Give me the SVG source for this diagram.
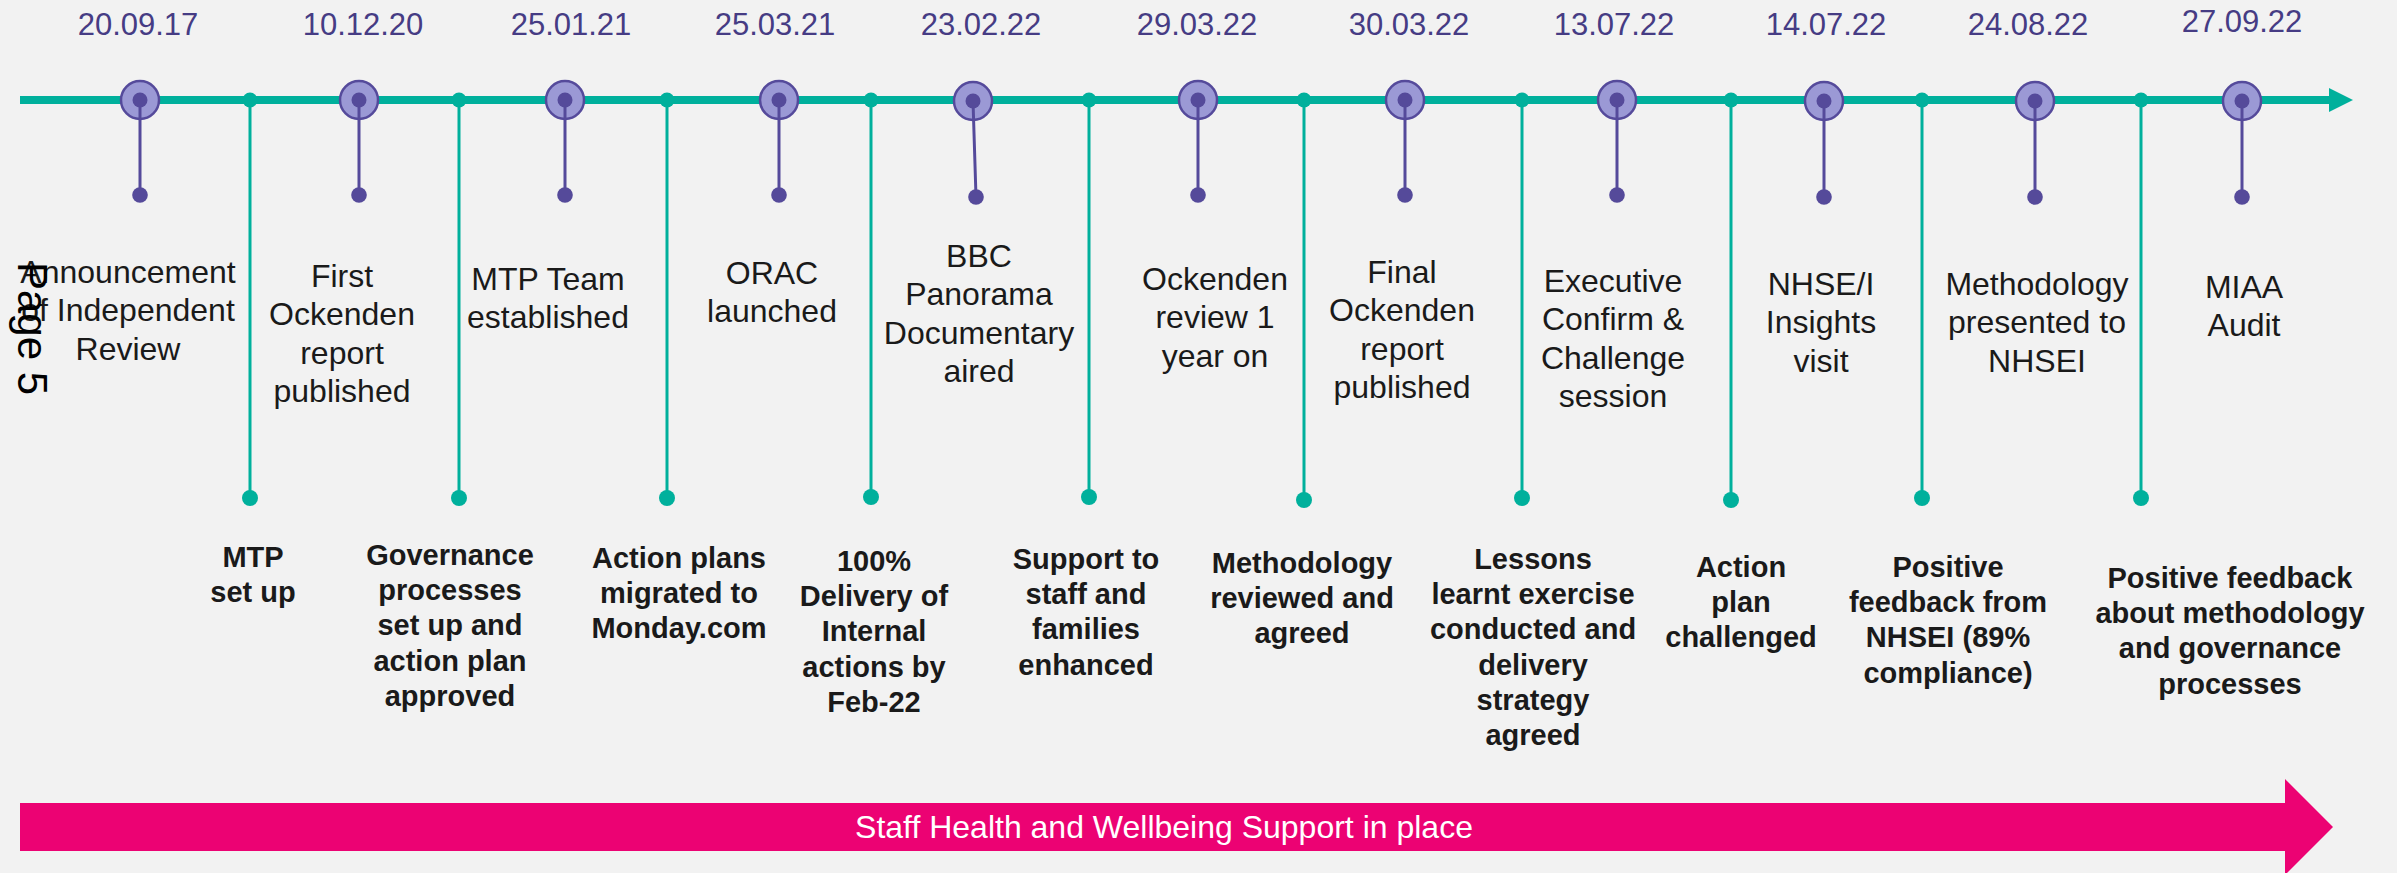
<svg xmlns="http://www.w3.org/2000/svg" width="2397" height="873" viewBox="0 0 2397 873">
<style>
.bg{fill:#F2F2F2}
.date{font-family:"Liberation Sans",Arial,sans-serif;font-size:31px;fill:#463C84;text-anchor:middle}
.lbl{font-family:"Liberation Sans",Arial,sans-serif;font-size:32px;fill:#1A1A1A;text-anchor:middle}
.blbl{font-family:"Liberation Sans",Arial,sans-serif;font-size:29px;font-weight:bold;fill:#1A1A1A;text-anchor:middle}
.ring{fill:#9B99D5;stroke:#554A9B;stroke-width:2.5}
.pdot{fill:#554A9A}
.tdot{fill:#00B09C}
.pstem{stroke:#554A9B;stroke-width:3;fill:none}
.tstem{stroke:#00B09C;stroke-width:3;fill:none}
.band{font-family:"Liberation Sans",Arial,sans-serif;font-size:32px;fill:#FFFFFF;text-anchor:middle}
</style>
<rect class="bg" x="0" y="0" width="2397" height="873"/>

<g id="connectors">
  <line x1="20" y1="100" x2="2331" y2="100" stroke="#00B09C" stroke-width="8"/>
  <polygon points="2329,88 2353,100 2329,112" fill="#00B09C"/>
  <line class="tstem" x1="250" y1="100" x2="250" y2="498"/>
  <line class="tstem" x1="459" y1="100" x2="459" y2="498"/>
  <line class="tstem" x1="667" y1="100" x2="667" y2="498"/>
  <line class="tstem" x1="871" y1="100" x2="871" y2="498"/>
  <line class="tstem" x1="1089" y1="100" x2="1089" y2="498"/>
  <line class="tstem" x1="1304" y1="100" x2="1304" y2="498"/>
  <line class="tstem" x1="1522" y1="100" x2="1522" y2="498"/>
  <line class="tstem" x1="1731" y1="100" x2="1731" y2="498"/>
  <line class="tstem" x1="1922" y1="100" x2="1922" y2="498"/>
  <line class="tstem" x1="2141" y1="100" x2="2141" y2="498"/>
</g>

<!-- Purple milestone nodes -->
<g id="m1">
  <text class="date" x="138" y="35">20.09.17</text>
  <circle class="ring" cx="140" cy="100" r="19"/>
  <line class="pstem" x1="140" y1="100" x2="140" y2="195"/>
  <circle class="pdot" cx="140" cy="100" r="7.5"/>
  <circle class="pdot" cx="140" cy="195" r="7.8"/>
  <text class="lbl" x="128" y="283"><tspan x="128">Announcement</tspan><tspan x="128" dy="38.4">of Independent</tspan><tspan x="128" dy="38.4">Review</tspan></text>
</g>
<g id="m2">
  <text class="date" x="363" y="35">10.12.20</text>
  <circle class="ring" cx="359" cy="100" r="19"/>
  <line class="pstem" x1="359" y1="100" x2="359" y2="195"/>
  <circle class="pdot" cx="359" cy="100" r="7.5"/>
  <circle class="pdot" cx="359" cy="195" r="7.8"/>
  <text class="lbl" x="342" y="287"><tspan x="342">First</tspan><tspan x="342" dy="38.4">Ockenden</tspan><tspan x="342" dy="38.4">report</tspan><tspan x="342" dy="38.4">published</tspan></text>
</g>
<g id="m3">
  <text class="date" x="571" y="35">25.01.21</text>
  <circle class="ring" cx="565" cy="100" r="19"/>
  <line class="pstem" x1="565" y1="100" x2="565" y2="195"/>
  <circle class="pdot" cx="565" cy="100" r="7.5"/>
  <circle class="pdot" cx="565" cy="195" r="7.8"/>
  <text class="lbl" x="548" y="290"><tspan x="548">MTP Team</tspan><tspan x="548" dy="38.4">established</tspan></text>
</g>
<g id="m4">
  <text class="date" x="775" y="35">25.03.21</text>
  <circle class="ring" cx="779" cy="100" r="19"/>
  <line class="pstem" x1="779" y1="100" x2="779" y2="195"/>
  <circle class="pdot" cx="779" cy="100" r="7.5"/>
  <circle class="pdot" cx="779" cy="195" r="7.8"/>
  <text class="lbl" x="772" y="284"><tspan x="772">ORAC</tspan><tspan x="772" dy="38.4">launched</tspan></text>
</g>
<g id="m5">
  <text class="date" x="981" y="35">23.02.22</text>
  <circle class="ring" cx="973" cy="101" r="19"/>
  <line class="pstem" x1="973" y1="101" x2="976" y2="197"/>
  <circle class="pdot" cx="973" cy="101" r="7.5"/>
  <circle class="pdot" cx="976" cy="197" r="7.8"/>
  <text class="lbl" x="979" y="267"><tspan x="979">BBC</tspan><tspan x="979" dy="38.4">Panorama</tspan><tspan x="979" dy="38.4">Documentary</tspan><tspan x="979" dy="38.4">aired</tspan></text>
</g>
<g id="m6">
  <text class="date" x="1197" y="35">29.03.22</text>
  <circle class="ring" cx="1198" cy="100" r="19"/>
  <line class="pstem" x1="1198" y1="100" x2="1198" y2="195"/>
  <circle class="pdot" cx="1198" cy="100" r="7.5"/>
  <circle class="pdot" cx="1198" cy="195" r="7.8"/>
  <text class="lbl" x="1215" y="290"><tspan x="1215">Ockenden</tspan><tspan x="1215" dy="38.4">review 1</tspan><tspan x="1215" dy="38.4">year on</tspan></text>
</g>
<g id="m7">
  <text class="date" x="1409" y="35">30.03.22</text>
  <circle class="ring" cx="1405" cy="100" r="19"/>
  <line class="pstem" x1="1405" y1="100" x2="1405" y2="195"/>
  <circle class="pdot" cx="1405" cy="100" r="7.5"/>
  <circle class="pdot" cx="1405" cy="195" r="7.8"/>
  <text class="lbl" x="1402" y="283"><tspan x="1402">Final</tspan><tspan x="1402" dy="38.4">Ockenden</tspan><tspan x="1402" dy="38.4">report</tspan><tspan x="1402" dy="38.4">published</tspan></text>
</g>
<g id="m8">
  <text class="date" x="1614" y="35">13.07.22</text>
  <circle class="ring" cx="1617" cy="100" r="19"/>
  <line class="pstem" x1="1617" y1="100" x2="1617" y2="195"/>
  <circle class="pdot" cx="1617" cy="100" r="7.5"/>
  <circle class="pdot" cx="1617" cy="195" r="7.8"/>
  <text class="lbl" x="1613" y="292"><tspan x="1613">Executive</tspan><tspan x="1613" dy="38.4">Confirm &amp;</tspan><tspan x="1613" dy="38.4">Challenge</tspan><tspan x="1613" dy="38.4">session</tspan></text>
</g>
<g id="m9">
  <text class="date" x="1826" y="35">14.07.22</text>
  <circle class="ring" cx="1824" cy="101" r="19"/>
  <line class="pstem" x1="1824" y1="101" x2="1824" y2="197"/>
  <circle class="pdot" cx="1824" cy="101" r="7.5"/>
  <circle class="pdot" cx="1824" cy="197" r="7.8"/>
  <text class="lbl" x="1821" y="295"><tspan x="1821">NHSE/I</tspan><tspan x="1821" dy="38.4">Insights</tspan><tspan x="1821" dy="38.4">visit</tspan></text>
</g>
<g id="m10">
  <text class="date" x="2028" y="35">24.08.22</text>
  <circle class="ring" cx="2035" cy="101" r="19"/>
  <line class="pstem" x1="2035" y1="101" x2="2035" y2="197"/>
  <circle class="pdot" cx="2035" cy="101" r="7.5"/>
  <circle class="pdot" cx="2035" cy="197" r="7.8"/>
  <text class="lbl" x="2037" y="295"><tspan x="2037">Methodology</tspan><tspan x="2037" dy="38.4">presented to</tspan><tspan x="2037" dy="38.4">NHSEI</tspan></text>
</g>
<g id="m11">
  <text class="date" x="2242" y="32">27.09.22</text>
  <circle class="ring" cx="2242" cy="101" r="19"/>
  <line class="pstem" x1="2242" y1="101" x2="2242" y2="197"/>
  <circle class="pdot" cx="2242" cy="101" r="7.5"/>
  <circle class="pdot" cx="2242" cy="197" r="7.8"/>
  <text class="lbl" x="2244" y="298"><tspan x="2244">MIAA</tspan><tspan x="2244" dy="38.4">Audit</tspan></text>
</g>

<!-- Teal milestone nodes -->
<g id="t1">
  <circle class="tdot" cx="250" cy="100" r="7.5"/>
  <circle class="tdot" cx="250" cy="498" r="8"/>
  <text class="blbl" x="253" y="567"><tspan x="253">MTP</tspan><tspan x="253" dy="35.2">set up</tspan></text>
</g>
<g id="t2">
  <circle class="tdot" cx="459" cy="100" r="7.5"/>
  <circle class="tdot" cx="459" cy="498" r="8"/>
  <text class="blbl" x="450" y="565"><tspan x="450">Governance</tspan><tspan x="450" dy="35.2">processes</tspan><tspan x="450" dy="35.2">set up and</tspan><tspan x="450" dy="35.2">action plan</tspan><tspan x="450" dy="35.2">approved</tspan></text>
</g>
<g id="t3">
  <circle class="tdot" cx="667" cy="100" r="7.5"/>
  <circle class="tdot" cx="667" cy="498" r="8"/>
  <text class="blbl" x="679" y="568"><tspan x="679">Action plans</tspan><tspan x="679" dy="35.2">migrated to</tspan><tspan x="679" dy="35.2">Monday.com</tspan></text>
</g>
<g id="t4">
  <circle class="tdot" cx="871" cy="100" r="7.5"/>
  <circle class="tdot" cx="871" cy="497" r="8"/>
  <text class="blbl" x="874" y="571"><tspan x="874">100%</tspan><tspan x="874" dy="35.2">Delivery of</tspan><tspan x="874" dy="35.2">Internal</tspan><tspan x="874" dy="35.2">actions by</tspan><tspan x="874" dy="35.2">Feb-22</tspan></text>
</g>
<g id="t5">
  <circle class="tdot" cx="1089" cy="100" r="7.5"/>
  <circle class="tdot" cx="1089" cy="497" r="8"/>
  <text class="blbl" x="1086" y="569"><tspan x="1086">Support to</tspan><tspan x="1086" dy="35.2">staff and</tspan><tspan x="1086" dy="35.2">families</tspan><tspan x="1086" dy="35.2">enhanced</tspan></text>
</g>
<g id="t6">
  <circle class="tdot" cx="1304" cy="100" r="7.5"/>
  <circle class="tdot" cx="1304" cy="500" r="8"/>
  <text class="blbl" x="1302" y="573"><tspan x="1302">Methodology</tspan><tspan x="1302" dy="35.2">reviewed and</tspan><tspan x="1302" dy="35.2">agreed</tspan></text>
</g>
<g id="t7">
  <circle class="tdot" cx="1522" cy="100" r="7.5"/>
  <circle class="tdot" cx="1522" cy="498" r="8"/>
  <text class="blbl" x="1533" y="569"><tspan x="1533">Lessons</tspan><tspan x="1533" dy="35.2">learnt exercise</tspan><tspan x="1533" dy="35.2">conducted and</tspan><tspan x="1533" dy="35.2">delivery</tspan><tspan x="1533" dy="35.2">strategy</tspan><tspan x="1533" dy="35.2">agreed</tspan></text>
</g>
<g id="t8">
  <circle class="tdot" cx="1731" cy="100" r="7.5"/>
  <circle class="tdot" cx="1731" cy="500" r="8"/>
  <text class="blbl" x="1741" y="577"><tspan x="1741">Action</tspan><tspan x="1741" dy="35.2">plan</tspan><tspan x="1741" dy="35.2">challenged</tspan></text>
</g>
<g id="t9">
  <circle class="tdot" cx="1922" cy="100" r="7.5"/>
  <circle class="tdot" cx="1922" cy="498" r="8"/>
  <text class="blbl" x="1948" y="577"><tspan x="1948">Positive</tspan><tspan x="1948" dy="35.2">feedback from</tspan><tspan x="1948" dy="35.2">NHSEI (89%</tspan><tspan x="1948" dy="35.2">compliance)</tspan></text>
</g>
<g id="t10">
  <circle class="tdot" cx="2141" cy="100" r="7.5"/>
  <circle class="tdot" cx="2141" cy="498" r="8"/>
  <text class="blbl" x="2230" y="588"><tspan x="2230">Positive feedback</tspan><tspan x="2230" dy="35.2">about methodology</tspan><tspan x="2230" dy="35.2">and governance</tspan><tspan x="2230" dy="35.2">processes</tspan></text>
</g>

<g id="wellbeing-band">
  <polygon points="20,803 2285,803 2285,779 2333,827 2285,875 2285,851 20,851" fill="#EC0273"/>
  <text class="band" x="1164" y="838">Staff Health and Wellbeing Support in place</text>
</g>

<text id="page-label" transform="translate(18,262) rotate(90)" font-family="'Liberation Sans',Arial,sans-serif" font-size="42" fill="#000000">Page 5</text>
</svg>
